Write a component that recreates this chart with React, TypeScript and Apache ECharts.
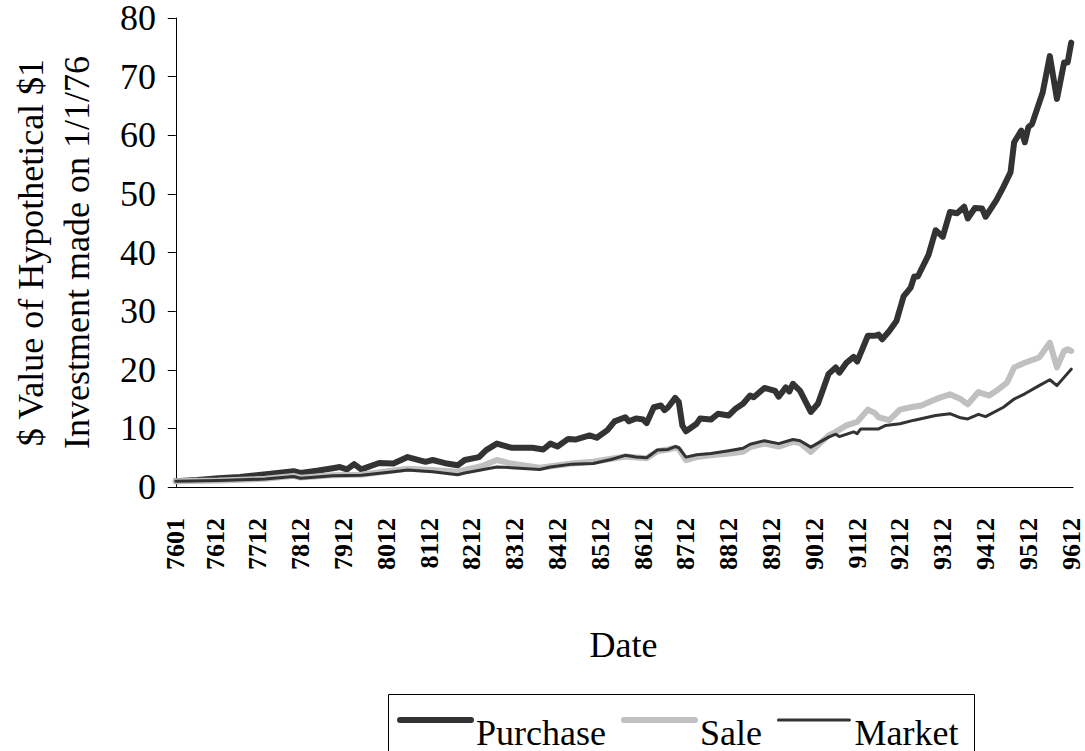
import React, { useEffect, useRef } from "react";
import * as echarts from "echarts";

// Month index 0 = January 1976, 251 = December 1996
const tickMonths = [0, 11, 23, 35, 47, 59, 71, 83, 95, 107, 119, 131, 143, 155, 167, 179, 191, 203, 215, 227, 239, 251];
const tickLabels = ["7601", "7612", "7712", "7812", "7912", "8012", "8112", "8212", "8312", "8412", "8512", "8612", "8712", "8812", "8912", "9012", "9112", "9212", "9312", "9412", "9512", "9612"];

const purchaseMonths = [0, 6, 12, 18, 26, 33, 35, 40, 44, 46, 48, 50, 52, 57, 61, 65, 70, 72, 76, 79, 81, 85, 87, 90, 94, 100, 103, 105, 107, 110, 112, 116, 118, 121, 123, 126, 127, 129, 131, 132, 134, 136, 137, 138, 140, 141, 142, 143, 146, 147, 150, 152, 155, 157, 159, 161, 162, 165, 168, 169, 171, 172, 173, 175, 178, 180, 183, 185, 186, 188, 190, 191, 194, 196, 197, 198, 200, 202, 204, 206, 207, 208, 211, 213, 215, 217, 219, 221, 222, 224, 226, 227, 230, 232, 234, 235, 237, 238, 239, 240, 243, 245, 247, 249, 250, 251];
const purchaseValues = [1.0, 1.2, 1.5, 1.7, 2.2, 2.7, 2.4, 2.8, 3.2, 3.4, 3.0, 3.9, 3.0, 4.1, 4.0, 5.1, 4.3, 4.6, 4.0, 3.7, 4.6, 5.1, 6.3, 7.4, 6.7, 6.7, 6.4, 7.4, 6.9, 8.2, 8.1, 8.8, 8.4, 9.7, 11.2, 11.9, 11.2, 11.7, 11.5, 10.9, 13.6, 13.9, 13.1, 13.6, 15.2, 14.5, 10.5, 9.5, 10.8, 11.7, 11.5, 12.5, 12.2, 13.4, 14.2, 15.6, 15.3, 16.9, 16.4, 15.4, 17.0, 16.3, 17.6, 16.4, 12.8, 14.2, 19.3, 20.4, 19.5, 21.2, 22.2, 21.4, 25.8, 25.8, 26.0, 25.2, 26.6, 28.3, 32.5, 34.0, 35.9, 35.9, 39.6, 43.8, 42.7, 46.9, 46.7, 47.8, 45.8, 47.6, 47.5, 46.1, 48.9, 51.2, 53.7, 58.8, 60.8, 58.8, 61.4, 61.9, 67.3, 73.5, 66.2, 72.4, 72.4, 75.8];

const saleMonths = [0, 12, 25, 33, 35, 44, 52, 61, 65, 72, 79, 81, 86, 90, 94, 102, 111, 117, 126, 132, 135, 138, 140, 141, 143, 146, 150, 155, 159, 161, 165, 169, 173, 175, 178, 183, 185, 188, 191, 194, 196, 197, 200, 203, 206, 209, 212, 214, 217, 220, 222, 225, 228, 230, 233, 235, 238, 242, 245, 247, 249, 250, 251];
const saleValues = [1.0, 1.1, 1.4, 1.9, 1.6, 2.0, 2.1, 2.8, 3.1, 2.9, 2.6, 2.9, 3.6, 4.6, 4.0, 3.3, 4.0, 4.3, 5.2, 4.9, 6.1, 6.4, 6.7, 6.5, 4.6, 5.1, 5.4, 5.7, 6.0, 6.8, 7.4, 6.9, 7.7, 7.5, 6.0, 8.8, 9.4, 10.5, 11.1, 13.2, 12.6, 11.9, 11.4, 13.2, 13.6, 13.9, 14.7, 15.2, 15.8, 15.0, 14.1, 16.2, 15.6, 16.4, 17.8, 20.4, 21.2, 22.1, 24.6, 20.4, 23.2, 23.5, 23.2];

const marketMonths = [0, 12, 25, 33, 35, 44, 52, 61, 65, 72, 79, 81, 90, 94, 102, 105, 111, 117, 122, 126, 129, 132, 135, 138, 140, 141, 143, 146, 150, 155, 159, 161, 165, 169, 173, 175, 178, 183, 185, 186, 190, 191, 192, 197, 199, 203, 207, 213, 217, 220, 222, 225, 227, 232, 235, 238, 242, 245, 247, 249, 251];
const marketValues = [1.0, 1.1, 1.35, 1.8, 1.5, 1.9, 2.0, 2.6, 2.9, 2.6, 2.1, 2.4, 3.4, 3.3, 3.0, 3.4, 3.9, 4.0, 4.7, 5.4, 5.1, 5.0, 6.3, 6.4, 6.9, 6.7, 5.1, 5.5, 5.7, 6.2, 6.6, 7.3, 7.9, 7.4, 8.1, 7.9, 6.8, 8.5, 9.0, 8.6, 9.4, 9.1, 9.9, 9.9, 10.5, 10.8, 11.4, 12.2, 12.5, 11.8, 11.6, 12.4, 12.0, 13.6, 15.0, 15.9, 17.3, 18.3, 17.3, 18.7, 20.1];

const seriesNames = ["Purchase", "Sale", "Market"];

const pairs = (m: number[], v: number[]) => m.map((x, i) => [x, v[i]]);

const SERIF = "Liberation Serif";
const DARK = "#333333";
const LIGHT = "#c0c0c0";

export default function App() {
  const ref = useRef<HTMLDivElement>(null);
  useEffect(() => {
    if (!ref.current) return;
    const chart = echarts.init(ref.current, null, { renderer: "svg" });
    const hidden = { color: "rgba(0,0,0,0)", borderWidth: 0, opacity: 0 };
    chart.setOption({
      animation: false,
      backgroundColor: "#fff",
      grid: { left: 166, right: 12, top: 15, bottom: 264, containLabel: false },
      graphic: [
        {
          type: "rect",
          silent: true,
          shape: { x: 388.5, y: 694.5, width: 586, height: 80 },
          style: { fill: "none", stroke: "#000", lineWidth: 1 },
        },
      ],
      legend: {
        left: 397,
        top: 689,
        orient: "horizontal",
        padding: 0,
        itemWidth: 71,
        itemHeight: 14,
        itemGap: 15,
        formatter: "{t|{name}}",
        textStyle: {
          fontFamily: SERIF,
          fontSize: 36,
          color: "#000",
          rich: {
            t: { fontFamily: SERIF, fontSize: 36, color: "#000", lineHeight: 36, padding: [26, 0, 0, 0] },
          },
        },
        data: [
          { name: seriesNames[0], itemStyle: hidden, lineStyle: { width: 6, color: DARK, cap: "round" } },
          { name: seriesNames[1], itemStyle: hidden, lineStyle: { width: 6, color: LIGHT, cap: "round" } },
          { name: seriesNames[2], itemStyle: hidden, lineStyle: { width: 3, color: DARK, cap: "round" } },
        ],
      },
      xAxis: {
        type: "value",
        min: -0.5,
        max: 251.5,
        name: "Date",
        nameLocation: "middle",
        nameGap: 140,
        nameTextStyle: { fontFamily: SERIF, fontSize: 36, color: "#000" },
        axisLine: { show: true, lineStyle: { color: "#000", width: 1 } },
        axisTick: { show: false },
        splitLine: { show: false },
        axisLabel: {
          customValues: tickMonths,
          formatter: (v: number) => {
            const k = tickMonths.indexOf(Math.round(v));
            return k >= 0 ? tickLabels[k] : "";
          },
          rotate: 90,
          margin: 31,
          fontFamily: SERIF,
          fontWeight: "bold",
          fontSize: 26,
          color: "#000",
        },
      },
      yAxis: {
        type: "value",
        min: 0,
        max: 80,
        interval: 10,
        name: "$ Value of Hypothetical $1\nInvestment made on 1/1/76",
        nameLocation: "middle",
        nameRotate: 90,
        nameGap: 74,
        nameTextStyle: { fontFamily: SERIF, fontSize: 36, lineHeight: 46, color: "#000" },
        axisLine: { show: true, lineStyle: { color: "#000", width: 1 } },
        axisTick: { show: true, inside: false, length: 8, lineStyle: { color: "#000" } },
        splitLine: { show: false },
        axisLabel: { fontFamily: SERIF, fontSize: 36, lineHeight: 30, color: "#000", margin: 18 },
      },
      series: [
        {
          name: seriesNames[0],
          type: "line",
          data: pairs(purchaseMonths, purchaseValues),
          symbol: "none",
          lineStyle: { color: DARK, width: 6, cap: "round", join: "round" },
          itemStyle: { color: DARK },
        },
        {
          name: seriesNames[1],
          type: "line",
          data: pairs(saleMonths, saleValues),
          symbol: "none",
          lineStyle: { color: LIGHT, width: 6, cap: "round", join: "round" },
          itemStyle: { color: LIGHT },
        },
        {
          name: seriesNames[2],
          type: "line",
          data: pairs(marketMonths, marketValues),
          symbol: "none",
          lineStyle: { color: DARK, width: 3, cap: "round", join: "round" },
          itemStyle: { color: DARK },
        },
      ],
    });
    return () => chart.dispose();
  }, []);
  return (
    <div
      ref={ref}
      style={{ position: "absolute", left: 0, top: 0, width: 1085, height: 751, background: "#fff" }}
    />
  );
}
